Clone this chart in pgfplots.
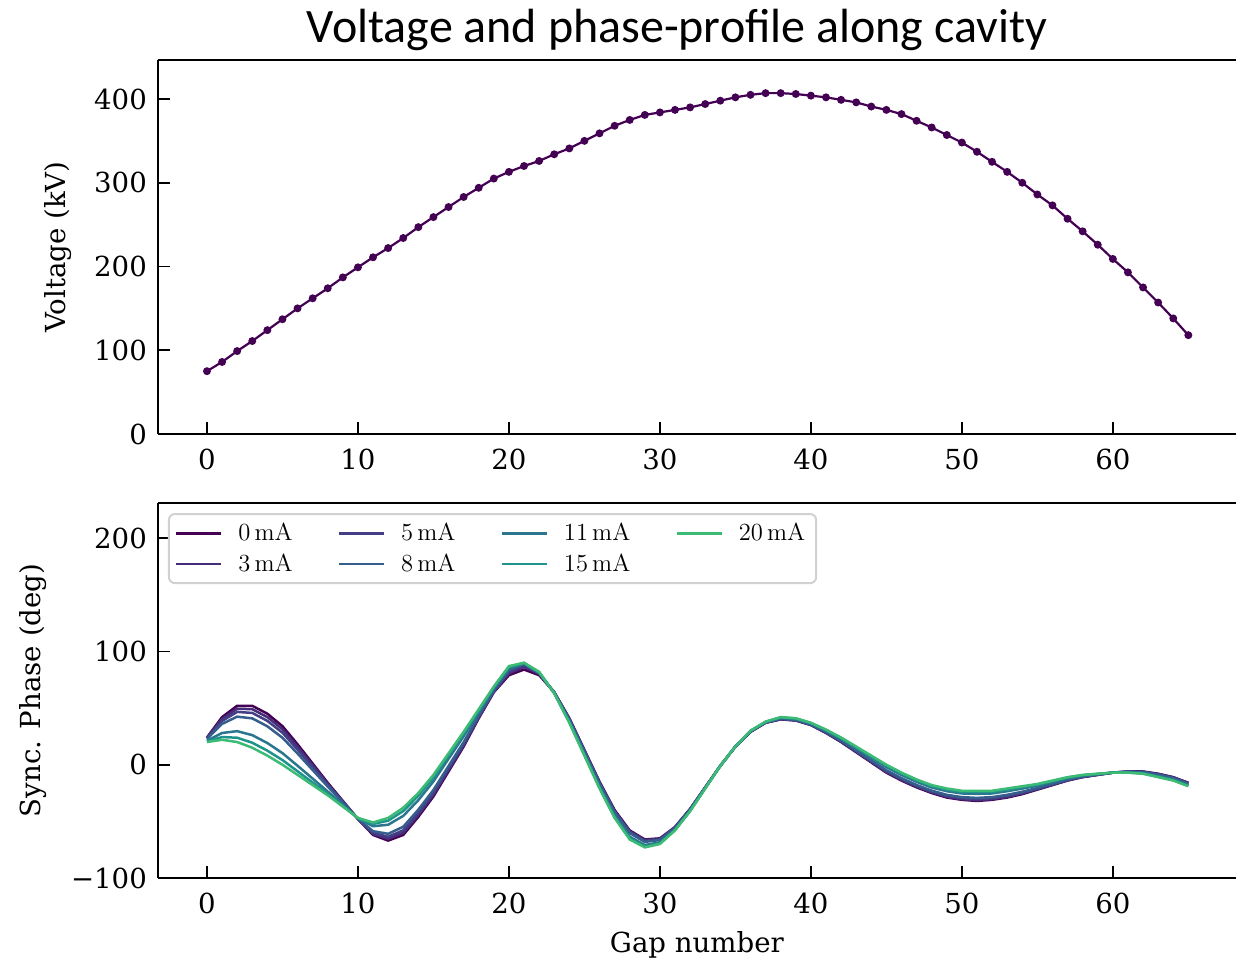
\documentclass[border=0pt]{standalone}
\usepackage{fontspec}
\usepackage{pgfplots}
\usepackage{pgfplotstable}
\pgfplotsset{compat=1.18}
\newfontfamily\dejavu{DejaVu Serif}
\newfontfamily\carlito{Carlito}
\definecolor{c0}{HTML}{440154}
\definecolor{c3}{HTML}{472C7A}
\definecolor{c5}{HTML}{433E85}
\definecolor{c8}{HTML}{355E8D}
\definecolor{c11}{HTML}{2A768E}
\definecolor{c15}{HTML}{20938C}
\definecolor{c20}{HTML}{3CBB75}

\pgfplotstableread{
n v
0 75
1 86
2 99
3 111
4 124
5 137
6 150
7 162
8 174
9 187
10 199
11 211
12 222
13 234
14 247
15 259
16 271
17 283
18 294
19 305
20 313
21 320
22 326
23 334
24 341
25 350
26 359
27 368
28 375
29 381
30 384
31 387
32 390
33 394
34 398
35 402
36 405
37 407
38 407
39 406
40 404
41 402
42 399
43 396
44 391
45 387
46 382
47 374
48 366
49 357
50 348
51 337
52 325
53 313
54 300
55 286
56 273
57 257
58 242
59 226
60 209
61 193
62 175
63 157
64 138
65 118
}\volt

\pgfplotstableread{
n i0 i3 i5 i8 i11 i15 i20
0 24 23.7 23.3 22.8 21.2 20.5 20
1 42 40.4 38.6 36 28 24.4 22
2 52 49.4 46.6 42.4 29.6 23.8 20
3 52 49 45.7 40.9 26.1 19.4 15
4 45 42 38.7 33.9 19.1 12.4 8
5 34 31.3 28.2 23.8 10.2 4.1 0
6 18 15.8 13.4 9.9 -0.9 -5.8 -9
7 1 -0.5 -2.2 -4.7 -12.3 -15.7 -18
8 -16 -16.9 -17.9 -19.3 -23.7 -25.7 -27
9 -32 -32.4 -32.9 -33.5 -35.5 -36.4 -37
10 -48 -47.9 -47.8 -47.7 -47.3 -47.1 -47
11 -62 -61.1 -60.1 -58.7 -54.3 -52.3 -51
12 -67 -65.4 -63.6 -61 -53 -49.4 -47
13 -62 -60.1 -57.9 -54.8 -45.2 -40.9 -38
14 -46 -44.3 -42.4 -39.7 -31.3 -27.5 -25
15 -28 -26.5 -24.8 -22.3 -14.7 -11.3 -9
16 -6 -4.7 -3.3 -1.2 5.2 8.1 10
17 16 17 18.2 19.9 25.1 27.4 29
18 41 41.6 42.4 43.4 46.6 48 49
19 64 64.4 64.9 65.5 67.5 68.4 69
20 79 80.5 82 83.5 85.2 86.3 87
21 84 86.5 88 88.8 89.2 89.8 90
22 79 80.2 80.5 80.9 81.3 81.6 82
23 64 64 63.8 63.7 63.3 63.1 63
24 41 40.7 40.3 39.8 38.2 37.5 37
25 13 12.6 12.1 11.5 9.5 8.6 8
26 -15 -15.5 -16 -16.8 -19.2 -20.3 -21
27 -40 -40.6 -41.2 -42.1 -44.9 -46.2 -47
28 -58 -58.6 -59.4 -60.4 -63.6 -65 -66
29 -66 -66.6 -67.2 -68.1 -70.9 -72.2 -73
30 -65 -65.4 -65.9 -66.5 -68.5 -69.4 -70
31 -55 -55.2 -55.5 -55.9 -57.1 -57.6 -58
32 -39 -39.2 -39.3 -39.6 -40.4 -40.8 -41
33 -20 -20.1 -20.2 -20.3 -20.7 -20.9 -21
34 -1 -1 -1 -1 -1 -1 -1
35 16 16 16 16 16 16 16
36 29 29.1 29.2 29.3 29.7 29.9 30
37 37 37.1 37.2 37.3 37.7 37.9 38
38 40 40.2 40.3 40.6 41.4 41.8 42
39 39 39.2 39.3 39.6 40.4 40.8 41
40 35 35.2 35.3 35.6 36.4 36.8 37
41 28 28.2 28.5 28.9 30.1 30.6 31
42 20 20.3 20.7 21.2 22.8 23.5 24
43 11 11.4 11.9 12.5 14.5 15.4 16
44 2 2.5 3 3.8 6.2 7.3 8
45 -7 -6.4 -5.8 -4.9 -2.1 -0.8 0
46 -14 -13.4 -12.8 -11.9 -9.1 -7.8 -7
47 -20 -19.4 -18.8 -17.9 -15.1 -13.8 -13
48 -25 -24.4 -23.8 -22.9 -20.1 -18.8 -18
49 -29 -28.4 -27.6 -26.6 -23.4 -22 -21
50 -31 -30.4 -29.6 -28.6 -25.4 -24 -23
51 -32 -31.3 -30.5 -29.3 -25.7 -24.1 -23
52 -31 -30.4 -29.6 -28.6 -25.4 -24 -23
53 -29 -28.4 -27.6 -26.6 -23.4 -22 -21
54 -26 -25.4 -24.8 -23.9 -21.1 -19.8 -19
55 -22 -21.6 -21.2 -20.5 -18.5 -17.6 -17
56 -18 -17.7 -17.3 -16.8 -15.2 -14.5 -14
57 -14 -13.8 -13.5 -13.1 -11.9 -11.4 -11
58 -11 -10.8 -10.7 -10.4 -9.6 -9.2 -9
59 -9 -8.9 -8.8 -8.7 -8.3 -8.1 -8
60 -7 -7 -7 -7 -7 -7 -7
61 -6 -6.1 -6.2 -6.3 -6.7 -6.9 -7
62 -6 -6.2 -6.3 -6.6 -7.4 -7.8 -8
63 -8 -8.2 -8.5 -8.9 -10.1 -10.6 -11
64 -11 -11.2 -11.5 -11.9 -13.1 -13.6 -14
65 -16 -16.2 -16.5 -16.9 -18.1 -18.6 -19
}\phase

\pgfplotsset{
  myaxis/.style={
    scale only axis,
    width=539pt,
    anchor=south west,
    xmin=-3.25, xmax=68.15,
    axis x line*=box,
    axis y line*=left,
    xtick={0,10,...,60},
    tick pos=left,
    tick align=inside,
    major tick length=6pt,
    every tick/.style={black, line width=0.9pt},
    axis line style={line width=1.1pt},
    /pgf/number format/assume math mode=true,
    tick label style={font=\dejavu\fontsize{13.8}{16}\selectfont},
    xticklabel shift=4pt,
    yticklabel shift=2pt,
  }
}

\begin{document}
\begin{tikzpicture}
\useasboundingbox (0,0) rectangle (618pt,481pt);
\begin{pgfinterruptboundingbox}

\begin{axis}[myaxis,
  at={(78.95pt,264pt)},
  height=187pt,
  ymin=0, ymax=446.6,
  ytick={0,100,200,300,400},
  ylabel={Voltage (kV)},
  every axis y label/.style={at={(axis description cs:-0.0927,0.5)}, rotate=90, anchor=center, font=\dejavu\fontsize{13.8}{16}\selectfont},
]
\addplot[c0, line width=1.1pt, mark=*, mark size=1.4pt] table[x=n, y=v] {\volt};
\end{axis}

\begin{axis}[myaxis,
  at={(78.95pt,42pt)},
  height=187.5pt,
  ymin=-100, ymax=231,
  ytick={-100,0,100,200},
  yticklabels={−100,0,100,200},
  ylabel={Sync. Phase (deg)},
  xlabel={Gap number},
  every axis y label/.style={at={(axis description cs:-0.1155,0.5)}, rotate=90, anchor=center, font=\dejavu\fontsize{13.8}{16}\selectfont},
  every axis x label/.style={at={(axis description cs:0.5,-0.1787)}, anchor=center, font=\dejavu\fontsize{13.8}{16}\selectfont},
  legend columns=4,
  legend image code/.code={\draw[#1, line width=1.25pt] (0pt,0pt) -- (22.5pt,0pt);},
  legend style={at={(axis description cs:0.0093,0.9733)}, anchor=north west,
    draw=black!18, line width=1pt, rounded corners=3pt, fill=white,
    font=\fontsize{12.3}{15}\selectfont,
    inner xsep=3pt, inner ysep=2pt,
    /tikz/every even column/.append style={column sep=20pt},
    /tikz/every odd column/.append style={column sep=5.5pt},
    nodes={inner sep=2.5pt}},
]
\addplot[c0, line width=1.25pt, forget plot] table[x=n, y=i0] {\phase};
\addplot[c3, line width=1.25pt, forget plot] table[x=n, y=i3] {\phase};
\addplot[c5, line width=1.25pt, forget plot] table[x=n, y=i5] {\phase};
\addplot[c8, line width=1.25pt, forget plot] table[x=n, y=i8] {\phase};
\addplot[c11, line width=1.25pt, forget plot] table[x=n, y=i11] {\phase};
\addplot[c15, line width=1.25pt, forget plot] table[x=n, y=i15] {\phase};
\addplot[c20, line width=1.25pt, forget plot] table[x=n, y=i20] {\phase};
\addlegendimage{c0}\addlegendentry{0\,mA}
\addlegendimage{c5}\addlegendentry{5\,mA}
\addlegendimage{c11}\addlegendentry{11\,mA}
\addlegendimage{c20}\addlegendentry{20\,mA}
\addlegendimage{c3}\addlegendentry{3\,mA}
\addlegendimage{c8}\addlegendentry{8\,mA}
\addlegendimage{c15}\addlegendentry{15\,mA}
\end{axis}

\end{pgfinterruptboundingbox}
\node[font=\carlito\fontsize{24}{28}\selectfont] at (338.5pt,466pt) {Voltage and phase-profile along cavity};
\end{tikzpicture}
\end{document}
